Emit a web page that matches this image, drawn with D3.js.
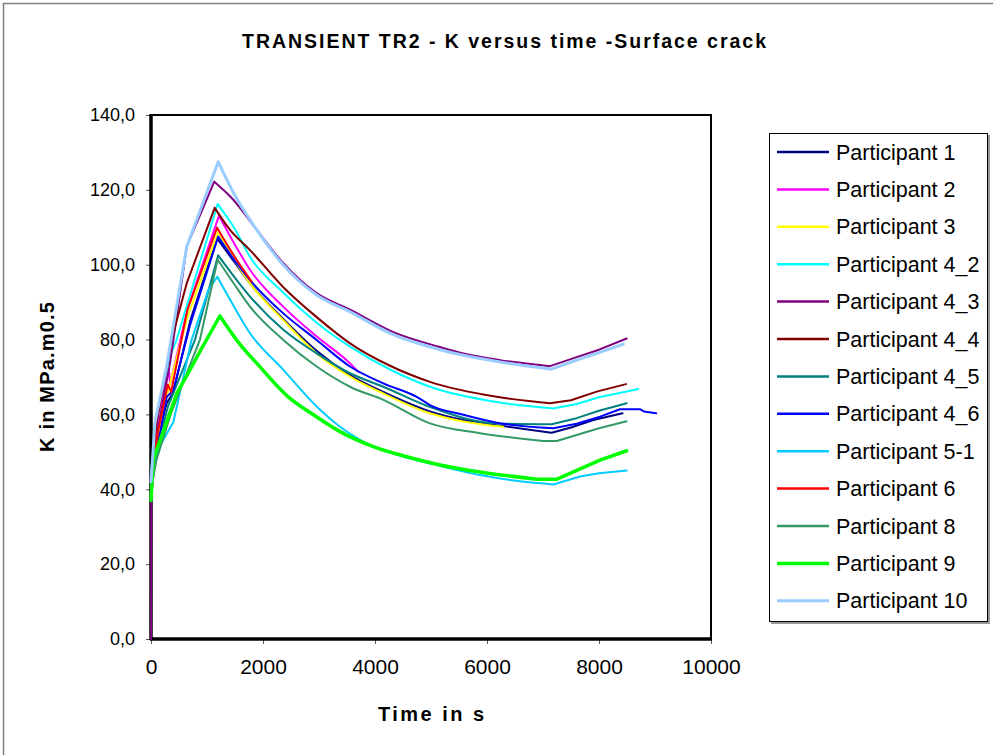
<!DOCTYPE html>
<html lang="en">
<head>
<meta charset="UTF-8" />
<title>TRANSIENT TR2 - K versus time</title>
<script src="https://d3js.org/d3.v7.min.js"></script>
<style>
  body { margin: 0; background: #fff; }
  text { font-family: "Liberation Sans", Arial, sans-serif; }
</style>
</head>
<body>
<script>
// [time in s, K in MPa.m0.5]
var p1 = [[0,41],[100,52],[280,63],[400,66],[700,85],[1180,107],[1500,100.5],[1768,95],[2363,85.5],[2958,77],[3554,70.5],[4148,66],[4982,60.8],[5577,58.5],[6291,56.9],[7155,55.1],[7500,56.5],[7900,58.5],[8420,60.3]];
var p2 = [[0,43],[130,60],[320,72],[340,68],[650,88],[1214,113.1],[1530,104.5],[1770,98.6],[2360,88.8],[2960,80.8],[3550,73.7],[3700,71.4]];
var p3 = [[0,42],[120,54],[300,66],[650,86],[1200,108.8],[1500,101],[1768,95],[2363,85.2],[2958,76.3],[3554,70.1],[4148,65.6],[4982,60.3],[5577,58.1],[6291,56.7]];
var p4_2 = [[0,44],[100,60],[350,76],[458,80],[800,97],[1190,116.2],[1500,109.5],[1768,102.1],[2363,92.5],[2958,84.5],[3554,78.1],[4268,72],[4982,67.4],[6173,63.3],[7185,61.6],[7600,62.8],[8000,64.6],[8494,66.1],[8702,66.8]];
var p4_3 = [[0,0],[5,38],[130,56.7],[340,73.7],[640,105],[1130,122.2],[1450,117.7],[1887,109.3],[2363,100.4],[2958,92.4],[3554,88],[4327,82],[5161,78],[5577,76.3],[6232,74.5],[7125,72.9],[7600,75.3],[8000,77.3],[8494,80.3]];
var p4_4 = [[0,42],[100,58],[250,70],[369,80],[637,95],[1137,115.2],[1411,109.3],[1768,103.9],[2363,94],[2958,86],[3554,79],[4268,73],[4982,68.7],[6173,64.7],[7125,63],[7500,63.8],[7958,66.1],[8482,68.1]];
var p4_5 = [[0,40],[100,50],[300,62],[786,80],[1200,102.5],[1500,96.5],[1768,91.5],[2363,82.6],[2958,76.3],[3554,71],[4148,67.4],[4982,62],[6173,57.6],[7155,57.4],[7600,59],[8000,61],[8494,63]];
var p4_6 = [[0,40],[100,50],[280,64.7],[400,66.5],[700,84],[1200,107.5],[1500,101],[1768,95.9],[2363,87],[2958,79.9],[3554,72.8],[4148,68.3],[4744,64.7],[4982,62.5],[5577,59.9],[6173,57.8],[7185,56.3],[7600,57.5],[8018,59.4],[8375,61.4],[8730,61.4],[8800,60.8],[9020,60.3]];
var p5_1 = [[0,40],[100,50],[400,58],[726,80],[1024,93.2],[1184,96.8],[1400,91],[1768,81.7],[2363,71.9],[2958,62.1],[3375,56.7],[3970,51.4],[4566,48.5],[4982,46.9],[5875,43.8],[6800,41.8],[7185,41.3],[7661,43.4],[8000,44.3],[8494,45]];
var p6 = [[0,42],[120,55],[300,68],[360,66],[650,88],[1180,109.9],[1500,102],[1798,95.5]];
var p8 = [[0,40],[100,48],[350,60],[875,80],[1190,101.4],[1500,94.5],[1768,88.8],[2363,79.9],[2958,72.8],[3554,67.4],[4148,63.9],[4982,57.6],[5875,55],[7006,52.9],[7245,52.9],[7600,54.5],[8000,56.3],[8494,58.2]];
var p9 = [[0,37],[40,48],[160,53],[460,65.6],[700,72],[900,77.5],[1230,86.3],[1600,78.5],[1887,73.7],[2450,64.7],[2900,59.9],[3375,55.4],[3970,51.4],[4566,48.7],[5161,46.5],[5875,44.6],[6887,42.7],[7250,42.7],[8018,47.8],[8494,50.3]];
var p10 = [[0,42],[70,57.7],[280,73],[637,104.8],[1200,127.5],[1500,118.5],[1830,110.6],[2363,99.9],[2958,91.9],[3554,87.4],[4327,81.3],[5161,77.3],[5577,75.8],[6232,74],[7150,72.1],[7600,74.5],[8000,76.5],[8434,78.8]];

var names = ["Participant 1", "Participant 2", "Participant 3", "Participant 4_2", "Participant 4_3",
  "Participant 4_4", "Participant 4_5", "Participant 4_6", "Participant 5-1", "Participant 6",
  "Participant 8", "Participant 9", "Participant 10"];
var seriesValues = [p1, p2, p3, p4_2, p4_3, p4_4, p4_5, p4_6, p5_1, p6, p8, p9, p10];
var xTicks = [0, 2000, 4000, 6000, 8000, 10000];
var yTicks = [0, 20, 40, 60, 80, 100, 120, 140];

var colors = ["#000080", "#ff00ff", "#ffff00", "#00ffff", "#800080", "#800000", "#008080",
  "#0000ff", "#00ccff", "#ff0000", "#339966", "#00ff00", "#99ccff"];
var widths = [2, 2, 2, 2, 2, 2, 2, 2, 2, 2, 2, 3.5, 3];

var W = 993, H = 755;
var plot = { left: 151, right: 711, top: 115, bottom: 639 };

var svg = d3.select("body").append("svg")
  .attr("width", W)
  .attr("height", H);

svg.append("rect")
  .attr("x", 3.5).attr("y", 3.5)
  .attr("width", 1000).attr("height", 800)
  .attr("fill", "#fff")
  .attr("stroke", "#808080")
  .attr("stroke-width", 1.5);

svg.append("text")
  .attr("x", 504).attr("y", 48)
  .attr("text-anchor", "middle")
  .attr("font-size", 19.5)
  .attr("font-weight", "bold")
  .attr("textLength", 524)
  .attr("lengthAdjust", "spacing")
  .text("TRANSIENT TR2 - K versus time -Surface crack");

var x = d3.scaleLinear().domain([0, 10000]).range([plot.left, plot.right]);
var y = d3.scaleLinear().domain([0, 140]).range([plot.bottom, plot.top]);

// plot frame
svg.append("rect")
  .attr("x", plot.left).attr("y", plot.top)
  .attr("width", plot.right - plot.left)
  .attr("height", plot.bottom - plot.top)
  .attr("fill", "#fff")
  .attr("stroke", "#000")
  .attr("stroke-width", 2);

var yAxis = svg.append("g")
  .attr("transform", "translate(" + plot.left + ",0)")
  .call(d3.axisLeft(y).tickValues(yTicks).tickSize(5).tickPadding(11)
    .tickFormat(function (d) { return d3.format(".1f")(d).replace(".", ","); }));
yAxis.select(".domain").remove();
yAxis.selectAll(".tick line").attr("stroke", "#555");
yAxis.selectAll("text")
  .attr("font-size", 18)
  .attr("fill", "#000")
  .attr("font-family", "Liberation Sans, Arial, sans-serif");

var xAxis = svg.append("g")
  .attr("transform", "translate(0," + plot.bottom + ")")
  .call(d3.axisBottom(x).tickValues(xTicks).tickSize(5).tickPadding(15)
    .tickFormat(d3.format("d")));
xAxis.select(".domain").remove();
xAxis.selectAll(".tick line").attr("stroke", "#555");
xAxis.selectAll("text")
  .attr("font-size", 21)
  .attr("fill", "#000")
  .attr("font-family", "Liberation Sans, Arial, sans-serif");

// heavy left and bottom axis lines
svg.append("line")
  .attr("x1", plot.left).attr("x2", plot.left)
  .attr("y1", plot.top - 1).attr("y2", plot.bottom + 1)
  .attr("stroke", "#000").attr("stroke-width", 3.5);
svg.append("line")
  .attr("x1", plot.left - 1).attr("x2", plot.right + 1)
  .attr("y1", plot.bottom).attr("y2", plot.bottom)
  .attr("stroke", "#000").attr("stroke-width", 3.5);

// sharp peak and trough, smooth cooling curve in between
var straight = d3.line()
  .x(function (d) { return x(d[0]); })
  .y(function (d) { return y(d[1]); });
var smooth = d3.line()
  .curve(d3.curveMonotoneX)
  .x(function (d) { return x(d[0]); })
  .y(function (d) { return y(d[1]); });

function pathFor(pts) {
  var peak = d3.maxIndex(pts, function (d) { return d[1]; });
  var tail = pts.slice(peak);
  var trough = peak + d3.minIndex(tail, function (d) { return d[1]; });
  var s = straight(pts.slice(0, peak + 1));
  if (trough > peak) s += smooth(pts.slice(peak, trough + 1));
  if (trough < pts.length - 1) s += straight(pts.slice(trough));
  return s;
}

svg.append("g")
  .selectAll("path")
  .data(seriesValues)
  .join("path")
  .attr("fill", "none")
  .attr("stroke", function (d, i) { return colors[i]; })
  .attr("stroke-width", function (d, i) { return widths[i]; })
  .attr("stroke-linejoin", "round")
  .attr("stroke-linecap", "round")
  .attr("d", pathFor);

svg.append("text")
  .attr("x", 431).attr("y", 721)
  .attr("text-anchor", "middle")
  .attr("font-size", 20)
  .attr("font-weight", "bold")
  .attr("textLength", 106)
  .attr("lengthAdjust", "spacing")
  .text("Time in s");

svg.append("text")
  .attr("transform", "translate(54,377) rotate(-90)")
  .attr("text-anchor", "middle")
  .attr("font-size", 20)
  .attr("font-weight", "bold")
  .attr("textLength", 150)
  .attr("lengthAdjust", "spacing")
  .text("K in MPa.m0.5");

// legend
var legend = svg.append("g");
legend.append("rect")
  .attr("x", 771).attr("y", 135)
  .attr("width", 219).attr("height", 489)
  .attr("fill", "#999");
legend.append("rect")
  .attr("x", 769.5).attr("y", 133.5)
  .attr("width", 218).attr("height", 488)
  .attr("fill", "#fff")
  .attr("stroke", "#000")
  .attr("stroke-width", 1);

var item = legend.selectAll("g.item")
  .data(names)
  .join("g")
  .attr("class", "item")
  .attr("transform", function (d, i) { return "translate(0," + (152 + i * 37.4) + ")"; });
item.append("line")
  .attr("x1", 777).attr("x2", 829)
  .attr("stroke", function (d, i) { return colors[i]; })
  .attr("stroke-width", function (d, i) { return Math.max(2.5, widths[i]); });
item.append("text")
  .attr("x", 836).attr("y", 7.5)
  .attr("font-size", 21.5)
  .text(function (d) { return d; });
</script>
</body>
</html>
